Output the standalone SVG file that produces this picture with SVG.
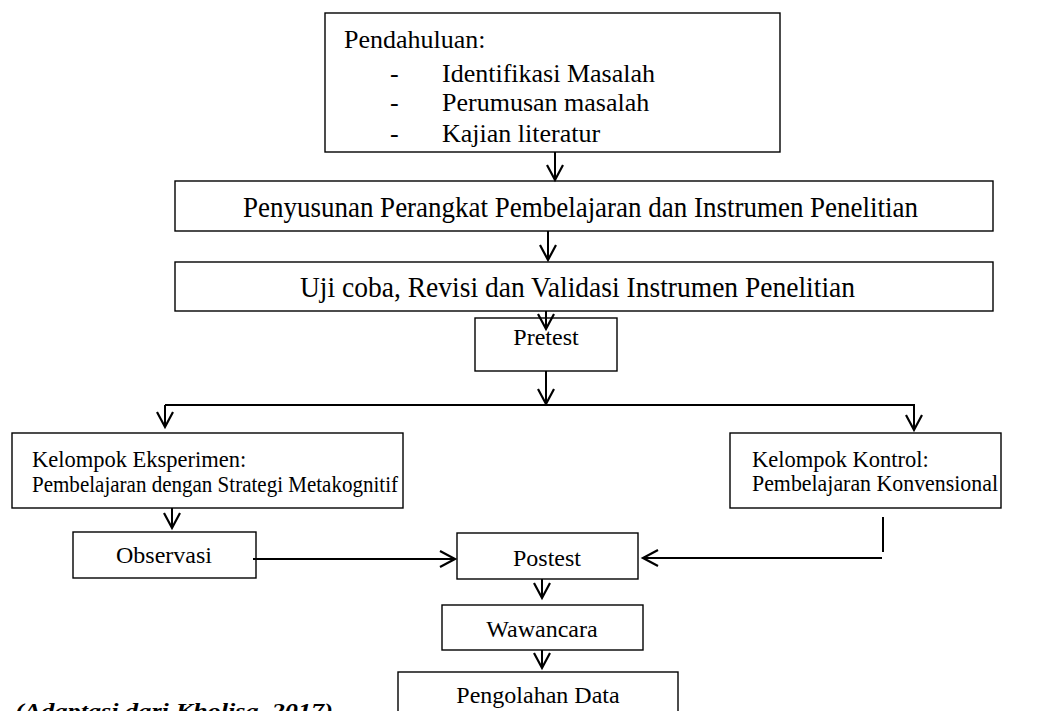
<svg xmlns="http://www.w3.org/2000/svg" width="1062" height="711" viewBox="0 0 1062 711">
<style>
.box{fill:#fff;stroke:#000;stroke-width:1.4}
.t{font-family:"Liberation Serif","Times New Roman",serif;fill:#000;font-size:24px}
.s{font-size:22.5px}
.c{stroke:#000;stroke-width:2;fill:none}
</style>
<defs>
<marker id="ah" markerUnits="userSpaceOnUse" markerWidth="20" markerHeight="22" viewBox="-17 -11 20 22" refX="0" refY="0" orient="auto">
<path d="M-15,-8 L0,0 L-15,8" fill="none" stroke="#000" stroke-width="2.2"/>
</marker>
</defs>
<rect width="1062" height="711" fill="#fff"/>
<g id="n-pendahuluan">
<rect class="box" x="325" y="13" width="455" height="139"/>
<text class="t" style="font-size:26px" x="344" y="48">Pendahuluan:</text>
<text class="t" style="font-size:26px" x="390" y="82">-</text>
<text class="t" style="font-size:26px" x="442" y="82">Identifikasi Masalah</text>
<text class="t" style="font-size:26px" x="390" y="111">-</text>
<text class="t" style="font-size:26px" x="442" y="111">Perumusan masalah</text>
<text class="t" style="font-size:26px" x="390" y="142">-</text>
<text class="t" style="font-size:26px" x="442" y="142">Kajian literatur</text>
</g>
<g id="n-penyusunan">
<rect class="box" x="175" y="181" width="818" height="50"/>
<text class="t" style="font-size:30px" x="243" y="217" textLength="675" lengthAdjust="spacingAndGlyphs">Penyusunan Perangkat Pembelajaran dan Instrumen Penelitian</text>
</g>
<g id="n-ujicoba">
<rect class="box" x="175" y="262" width="818" height="49"/>
<text class="t" style="font-size:30px" x="300" y="297" textLength="555" lengthAdjust="spacingAndGlyphs">Uji coba, Revisi dan Validasi Instrumen Penelitian</text>
</g>
<g id="n-pretest">
<rect class="box" x="475" y="318" width="142" height="53"/>
<text class="t" x="546" y="345" text-anchor="middle">Pretest</text>
</g>
<g id="n-eksperimen">
<rect class="box" x="12" y="433" width="391" height="75"/>
<text class="t s" x="32" y="467">Kelompok Eksperimen:</text>
<text class="t s" x="32" y="492" textLength="366" lengthAdjust="spacingAndGlyphs">Pembelajaran dengan Strategi Metakognitif</text>
</g>
<g id="n-kontrol">
<rect class="box" x="730" y="433" width="271" height="75"/>
<text class="t s" x="752" y="467">Kelompok Kontrol:</text>
<text class="t s" x="752" y="491" textLength="246" lengthAdjust="spacingAndGlyphs">Pembelajaran Konvensional</text>
</g>
<g id="n-observasi">
<rect class="box" x="73" y="532" width="183" height="46"/>
<text class="t" x="164" y="563" text-anchor="middle">Observasi</text>
</g>
<g id="n-postest">
<rect class="box" x="457" y="533" width="181" height="46"/>
<text class="t" x="547" y="566" text-anchor="middle">Postest</text>
</g>
<g id="n-wawancara">
<rect class="box" x="442" y="605" width="201" height="45"/>
<text class="t" x="542" y="637" text-anchor="middle">Wawancara</text>
</g>
<g id="n-pengolahan">
<rect class="box" x="398" y="672" width="280" height="60"/>
<text class="t" x="538" y="703" text-anchor="middle">Pengolahan Data</text>
</g>
<g id="caption">
<text class="t" style="font-size:20px;font-weight:bold;font-style:italic" x="15" y="718" textLength="318" lengthAdjust="spacingAndGlyphs">(Adaptasi dari Kholisa, 2017)</text>
</g>
<g id="connectors">
<line class="c" x1="555" y1="152" x2="555" y2="180" marker-end="url(#ah)"/>
<line class="c" x1="548" y1="231" x2="548" y2="260" marker-end="url(#ah)"/>
<line class="c" x1="546" y1="311" x2="546" y2="329" marker-end="url(#ah)"/>
<line class="c" x1="546" y1="371" x2="546" y2="404" marker-end="url(#ah)"/>
<line class="c" x1="165" y1="405" x2="915" y2="405"/>
<line class="c" x1="165" y1="405" x2="165" y2="427" marker-end="url(#ah)"/>
<line class="c" x1="914" y1="405" x2="914" y2="430" marker-end="url(#ah)"/>
<line class="c" x1="172" y1="508" x2="172" y2="528" marker-end="url(#ah)"/>
<line class="c" x1="253" y1="559" x2="455" y2="559" marker-end="url(#ah)"/>
<line class="c" x1="883" y1="517" x2="883" y2="552"/>
<line class="c" x1="882" y1="558" x2="643" y2="558" marker-end="url(#ah)"/>
<line class="c" x1="542" y1="579" x2="542" y2="598" marker-end="url(#ah)"/>
<line class="c" x1="542" y1="650" x2="542" y2="668" marker-end="url(#ah)"/>
</g>
</svg>
